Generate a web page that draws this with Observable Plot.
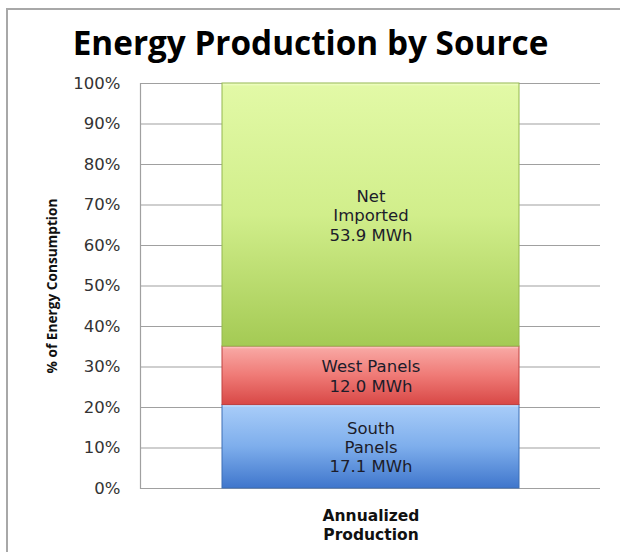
<!DOCTYPE html>
<html><head><meta charset="utf-8">
<script src="https://cdn.jsdelivr.net/npm/d3@7"></script>
<script src="https://cdn.jsdelivr.net/npm/@observablehq/plot@0.6"></script>
<style>
body{margin:0;background:#fff;width:620px;height:552px;overflow:hidden;position:relative;font-family:"DejaVu Sans",sans-serif}
#frame{position:absolute;left:6px;top:8px;width:700px;height:700px;border-left:2px solid #a8a8a8;border-top:2px solid #a8a8a8;}
#chart{position:absolute;left:0;top:0}
</style></head><body><div id="frame"></div><div id="chart"></div>
<script>
const sources = ["South Panels", "West Panels", "Net Imported"];
const energyMWh = [17.1, 12.0, 53.9];
const segmentLabels = ["South\nPanels\n17.1 MWh", "West Panels\n12.0 MWh", "Net\nImported\n53.9 MWh"];
const category = "Annualized Production";
const categoryLabel = "Annualized\nProduction";
const yTicks = [0, 0.1, 0.2, 0.3, 0.4, 0.5, 0.6, 0.7, 0.8, 0.9, 1.0];
const title = "Energy Production by Source";
const yLabel = "% of Energy Consumption";

const fills = {"South Panels": "url(#gSouth)", "West Panels": "url(#gWest)", "Net Imported": "url(#gNet)"};
const strokes = {"South Panels": "#3d6fb5", "West Panels": "#c04240", "Net Imported": "#94b84e"};

const data = sources.map((s, i) => ({source: s, value: energyMWh[i], label: segmentLabels[i], cat: category}));

const chart = Plot.plot({
  width: 620, height: 552,
  marginLeft: 140, marginRight: 20, marginTop: 83, marginBottom: 64,
  style: {fontFamily: "'DejaVu Sans', sans-serif", background: "transparent", color: "#222"},
  x: {domain: [category], padding: 0.215},
  y: {domain: [0, 1]},
  color: {type: "identity"},
  marks: [
    Plot.gridY(yTicks, {stroke: "#a0a0a0", strokeOpacity: 1, strokeWidth: 1.2}),
    Plot.frame({anchor: "left", stroke: "#a0a0a0", strokeWidth: 1.2}),
    Plot.barY(data, Plot.stackY({offset: "normalize", x: "cat", y: "value",
      fill: d => fills[d.source], stroke: d => strokes[d.source], strokeWidth: 1})),
    Plot.text(data, Plot.stackY({offset: "normalize", x: "cat", y: "value", text: "label",
      fontSize: 16.5, fill: "#1c1c2a", lineHeight: 1.18})),
    Plot.axisY(yTicks, {tickSize: 0, tickPadding: 20, tickFormat: d3.format(".0%"), fontSize: 16.5, fill: "#333", label: null}),
    Plot.axisX({tickSize: 0, tickPadding: 18, tickFormat: () => categoryLabel, fontSize: 15.5, fontWeight: "bold", fill: "#111", label: null, lineHeight: 1.28}),
    Plot.text([yLabel], {frameAnchor: "left", dx: -88, rotate: -90, textAnchor: "middle", lineAnchor: "middle", fontSize: 13.7, fontWeight: "bold", fill: "#111", fontFamily: "'Open Sans', sans-serif"}),
    Plot.text([title], {frameAnchor: "top", dx: -60, dy: -39, lineAnchor: "middle", fontSize: 33.3, fontWeight: "bold", fill: "#000", fontFamily: "'Open Sans', sans-serif"})
  ]
});

d3.select(chart).insert("defs", ":first-child").html(`
<linearGradient id="gNet" x1="0" y1="0" x2="0" y2="1">
  <stop offset="0" stop-color="#f4ffd2"/><stop offset="0.012" stop-color="#e2f9a6"/><stop offset="0.5" stop-color="#d1ee8b"/><stop offset="1" stop-color="#a4ca54"/>
</linearGradient>
<linearGradient id="gWest" x1="0" y1="0" x2="0" y2="1">
  <stop offset="0" stop-color="#ffd6d4"/><stop offset="0.05" stop-color="#f8a6a2"/><stop offset="0.5" stop-color="#ef7a76"/><stop offset="1" stop-color="#d84846"/>
</linearGradient>
<linearGradient id="gSouth" x1="0" y1="0" x2="0" y2="1">
  <stop offset="0" stop-color="#d6eaff"/><stop offset="0.035" stop-color="#a6cbf8"/><stop offset="0.5" stop-color="#7eaeec"/><stop offset="1" stop-color="#3f76cc"/>
</linearGradient>`);

document.getElementById("chart").appendChild(chart);
</script></body></html>
